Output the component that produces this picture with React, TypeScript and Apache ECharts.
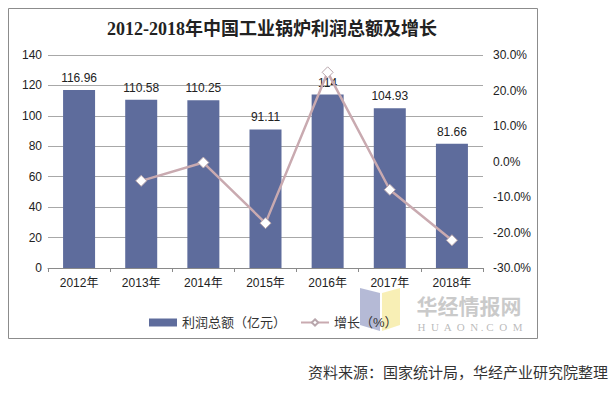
import React, { useEffect, useRef } from "react";
import * as echarts from "echarts";

const years = ["2012年", "2013年", "2014年", "2015年", "2016年", "2017年", "2018年"];
const profit = [116.96, 110.58, 110.25, 91.11, 114, 104.93, 81.66];
const growth: (number | null)[] = [null, -5.45, -0.3, -17.36, 25.12, -7.96, -22.18];
const leftTicks = { min: 0, max: 140, interval: 20 };
const rightTicks = { min: -30, max: 30, interval: 10 };
const titleText = "2012-2018年中国工业锅炉利润总额及增长";
const sourceText = "资料来源：国家统计局，华经产业研究院整理";
const barName = "利润总额（亿元）";
const lineName = "增长（%）";

const SANS = "Arial, 'Liberation Sans', 'Noto Sans CJK SC', sans-serif";

export default function App() {
  const ref = useRef<HTMLDivElement>(null);
  useEffect(() => {
    if (!ref.current) return;
    const chart = echarts.init(ref.current, undefined, { renderer: "svg" });
    chart.setOption({
      animation: false,
      backgroundColor: "#ffffff",
      textStyle: { fontFamily: SANS },
      grid: { left: 48, right: 133, top: 55, bottom: 127, containLabel: false },
      legend: {
        left: 144,
        top: 311,
        itemWidth: 28,
        itemHeight: 8,
        itemGap: 14,
        textStyle: { fontSize: 13, color: "#333", fontFamily: SANS },
        data: [
          { name: barName, icon: "rect", itemStyle: { color: "#5E6C9C" } },
          { name: lineName },
        ],
      },
      xAxis: {
        type: "category",
        data: years,
        axisLine: { lineStyle: { color: "#8a8a8a" } },
        axisTick: { show: true, alignWithLabel: false, length: 4, lineStyle: { color: "#8a8a8a" } },
        axisLabel: { color: "#222", fontSize: 12, margin: 9 },
      },
      yAxis: [
        {
          type: "value",
          min: leftTicks.min,
          max: leftTicks.max,
          interval: leftTicks.interval,
          axisLine: { show: false },
          axisTick: { show: false },
          axisLabel: { color: "#222", fontSize: 12, margin: 6 },
          splitLine: { lineStyle: { color: "#a8a8a8", width: 1 } },
        },
        {
          type: "value",
          min: rightTicks.min,
          max: rightTicks.max,
          interval: rightTicks.interval,
          axisLine: { show: false },
          axisTick: { show: false },
          axisLabel: {
            color: "#222",
            fontSize: 12,
            margin: 10,
            formatter: (v: number) => v.toFixed(1) + "%",
          },
          splitLine: { show: false },
        },
      ],
      series: [
        {
          name: barName,
          type: "bar",
          data: profit,
          barWidth: 32,
          itemStyle: { color: "#5E6C9C" },
          label: { show: true, position: "top", distance: 6, color: "#222", fontSize: 12 },
        },
        {
          name: lineName,
          type: "line",
          yAxisIndex: 1,
          data: growth,
          symbol: "diamond",
          symbolSize: 11,
          lineStyle: { color: "#C9AAB0", width: 2.5 },
          itemStyle: { color: "#ffffff", borderColor: "#B8A6AC", borderWidth: 1 },
          z: 5,
        },
      ],
      graphic: [
        {
          type: "rect",
          shape: { x: 8.5, y: 8.5, width: 529, height: 330 },
          style: { fill: "none", stroke: "#8c8c8c", lineWidth: 1 },
          silent: true,
        },
        {
          type: "text",
          x: 272,
          y: 29,
          style: {
            text: titleText,
            fontSize: 18,
            fontWeight: "bold",
            fontFamily: "'Liberation Serif', 'Noto Sans CJK SC', serif",
            fill: "#222",
            textAlign: "center",
            textVerticalAlign: "middle",
          },
        },
        {
          type: "polygon",
          shape: { points: [[360, 288], [380, 293], [380, 331], [360, 325]] },
          style: { fill: "rgba(120,130,180,0.55)" },
          z: -1,
        },
        {
          type: "polygon",
          shape: { points: [[382, 293], [400, 288], [400, 325], [382, 331]] },
          style: { fill: "rgba(245,232,150,0.7)" },
          z: -1,
        },
        {
          type: "text",
          x: 469,
          y: 305,
          style: {
            text: "华经情报网",
            fontSize: 21,
            fontWeight: "bold",
            fontFamily: "'Noto Sans CJK SC', sans-serif",
            fill: "rgba(185,185,185,0.75)",
            textAlign: "center",
            textVerticalAlign: "middle",
            lineHeight: 21,
          },
          z: -1,
        },
        {
          type: "text",
          x: 470,
          y: 327,
          style: {
            text: "H  U  A  O  N . C  O  M",
            fontSize: 11,
            fontFamily: "'Liberation Serif', serif",
            fill: "rgba(170,170,170,0.8)",
            textAlign: "center",
            textVerticalAlign: "middle",
            lineHeight: 11,
          },
          z: -1,
        },
        {
          type: "text",
          x: 608,
          y: 371,
          style: {
            text: sourceText,
            fontSize: 15,
            fontFamily: "'Noto Sans CJK SC', sans-serif",
            fill: "#333",
            textAlign: "right",
            textVerticalAlign: "middle",
          },
        },
      ],
    });
    return () => chart.dispose();
  }, []);
  return (
    <div
      ref={ref}
      style={{ position: "fixed", left: 0, top: 0, width: 616, height: 395 }}
    />
  );
}
